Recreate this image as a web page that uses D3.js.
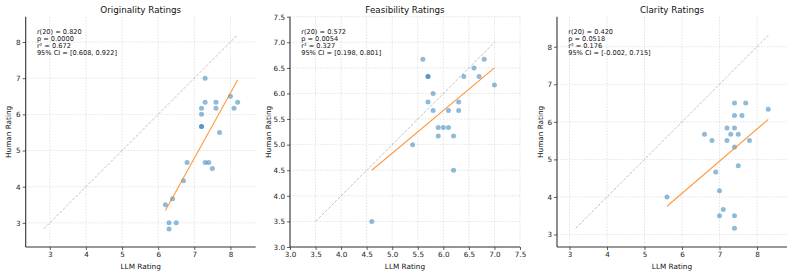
<!DOCTYPE html>
<html><head><meta charset="utf-8">
<script src="https://cdn.jsdelivr.net/npm/d3@7"></script>
<style>body{margin:0;background:#fff}svg{display:block;font-family:"DejaVu Sans",sans-serif}</style>
</head><body><svg id="c" width="793" height="275"></svg>
<script>
const titles = ["Originality Ratings","Feasibility Ratings","Clarity Ratings"];
const originalityLLM   = [7.3,7.3,7.6,7.6,7.2,7.2,7.2,7.2,8.0,8.2,8.1,7.7,6.8,7.3,7.4,7.5,6.7,6.4,6.2,6.3,6.5,6.3];
const originalityHuman = [7.0,6.333,6.333,6.167,6.167,6.0,5.667,5.667,6.5,6.333,6.167,5.5,4.667,4.667,4.667,4.5,4.167,3.667,3.5,3.0,3.0,2.833];
const feasibilityLLM   = [5.6,5.7,5.7,5.8,5.7,5.8,5.9,6.0,6.1,5.9,6.1,6.2,6.3,6.3,6.4,6.6,6.7,6.8,7.0,5.4,6.2,4.6];
const feasibilityHuman = [6.667,6.333,6.333,6.0,5.833,5.667,5.333,5.333,5.333,5.167,5.667,5.167,5.833,5.667,6.333,6.5,6.333,6.667,6.167,5.0,4.5,3.5];
const clarityLLM   = [7.4,7.7,8.3,7.4,7.6,7.2,7.4,7.3,7.5,6.6,6.8,7.2,7.8,7.4,7.5,6.9,7.0,5.6,7.1,7.0,7.4,7.4];
const clarityHuman = [6.5,6.5,6.333,6.167,6.167,5.833,5.833,5.667,5.667,5.667,5.5,5.5,5.5,5.333,4.833,4.667,4.167,4.0,3.667,3.5,3.5,3.167];
const statLines = [
  ["r(20) = 0.820","p = 0.0000","r² = 0.672","95% CI = [0.608, 0.922]"],
  ["r(20) = 0.572","p = 0.0054","r² = 0.327","95% CI = [0.198, 0.801]"],
  ["r(20) = 0.420","p = 0.0518","r² = 0.176","95% CI = [-0.002, 0.715]"]
];
const xTicks = [[3,4,5,6,7,8],[3.0,3.5,4.0,4.5,5.0,5.5,6.0,6.5,7.0,7.5],[3,4,5,6,7,8]];
const yTicks = [[3,4,5,6,7,8],[3.0,3.5,4.0,4.5,5.0,5.5,6.0,6.5,7.0,7.5],[3,4,5,6,7,8]];
const tickFmt = [d3.format("d"), d3.format(".1f"), d3.format("d")];
const xs = [originalityLLM, feasibilityLLM, clarityLLM];
const ys = [originalityHuman, feasibilityHuman, clarityHuman];

const svg = d3.select("#c");
const lefts = [25.7, 290, 557], pW = 230, pTop = 16.7, pBot = 247;
const dark = "#333";

for (let p = 0; p < 3; p++) {
  const X = xs[p], Y = ys[p];
  const lo = Math.min(d3.min(X), d3.min(Y)), hi = Math.max(d3.max(X), d3.max(Y));
  const dom = [lo - 0.5, hi + 0.5];
  const x = d3.scaleLinear().domain(dom).range([lefts[p], lefts[p] + pW]);
  const y = d3.scaleLinear().domain(dom).range([pBot, pTop]);
  const g = svg.append("g");

  // grid
  g.append("g").selectAll("line").data(xTicks[p]).join("line")
    .attr("x1", d => x(d)).attr("x2", d => x(d)).attr("y1", pTop).attr("y2", pBot)
    .attr("stroke", "#ccc").attr("stroke-width", 0.7).attr("stroke-dasharray", "1.5,1.5").attr("opacity", 0.75);
  g.append("g").selectAll("line").data(yTicks[p]).join("line")
    .attr("y1", d => y(d)).attr("y2", d => y(d)).attr("x1", lefts[p]).attr("x2", lefts[p] + pW)
    .attr("stroke", "#ccc").attr("stroke-width", 0.7).attr("stroke-dasharray", "1.5,1.5").attr("opacity", 0.75);

  // axes
  const xa = g.append("g").attr("transform", `translate(0,${pBot})`)
    .call(d3.axisBottom(x).tickValues(xTicks[p]).tickFormat(tickFmt[p]).tickSizeOuter(0).tickSize(3).tickPadding(2));
  const ya = g.append("g").attr("transform", `translate(${lefts[p]},0)`)
    .call(d3.axisLeft(y).tickValues(yTicks[p]).tickFormat(tickFmt[p]).tickSizeOuter(0).tickSize(3).tickPadding(2));
  [xa, ya].forEach(a => {
    a.select(".domain").attr("stroke", dark).attr("stroke-width", 1.1);
    a.selectAll(".tick line").attr("stroke", dark).attr("stroke-width", 0.8);
    a.selectAll("text").attr("font-size", 7.2).attr("fill", "#222").attr("font-family", "DejaVu Sans");
  });
  ya.select(".domain").attr("d", `M0,${pBot}V${pTop}`);
  xa.select(".domain").attr("d", `M${lefts[p]},0H${lefts[p] + pW}`);

  // diagonal
  g.append("line").attr("x1", x(lo)).attr("y1", y(lo)).attr("x2", x(hi)).attr("y2", y(hi))
    .attr("stroke", "#000").attr("stroke-opacity", 0.3).attr("stroke-width", 0.8).attr("stroke-dasharray", "3,1.5");

  // points
  g.append("g").selectAll("circle").data(X.map((v, i) => [v, Y[i]])).join("circle")
    .attr("cx", d => x(d[0])).attr("cy", d => y(d[1])).attr("r", 2.5)
    .attr("fill", "#1f77b4").attr("fill-opacity", 0.5);

  // regression
  const mx = d3.mean(X), my = d3.mean(Y);
  const b = d3.sum(X.map((v, i) => (v - mx) * (Y[i] - my))) / d3.sum(X.map(v => (v - mx) ** 2));
  const a0 = my - b * mx;
  const x0 = d3.min(X), x1 = d3.max(X);
  g.append("line").attr("x1", x(x0)).attr("y1", y(a0 + b * x0)).attr("x2", x(x1)).attr("y2", y(a0 + b * x1))
    .attr("stroke", "#ff7f0e").attr("stroke-opacity", 0.8).attr("stroke-width", 1.1);

  // title
  g.append("text").attr("x", lefts[p] + pW / 2).attr("y", 12.5).attr("text-anchor", "middle")
    .attr("font-size", 8.75).attr("fill", "#111").text(titles[p]);
  // labels
  g.append("text").attr("x", lefts[p] + pW / 2).attr("y", 268.5).attr("text-anchor", "middle")
    .attr("font-size", 7.3).attr("fill", "#111").text("LLM Rating");
  const lx = [10.8, 270.5, 543][p];
  g.append("text").attr("transform", `translate(${lx},${(pTop + pBot) / 2}) rotate(-90)`).attr("text-anchor", "middle")
    .attr("font-size", 7.3).attr("fill", "#111").text("Human Rating");

  // stats
  g.append("g").selectAll("text").data(statLines[p]).join("text")
    .attr("x", lefts[p] + 11.2).attr("y", (d, i) => 33.8 + i * 7)
    .attr("font-size", 6.6).attr("fill", "#111").text(d => d);
}
</script></body></html>
